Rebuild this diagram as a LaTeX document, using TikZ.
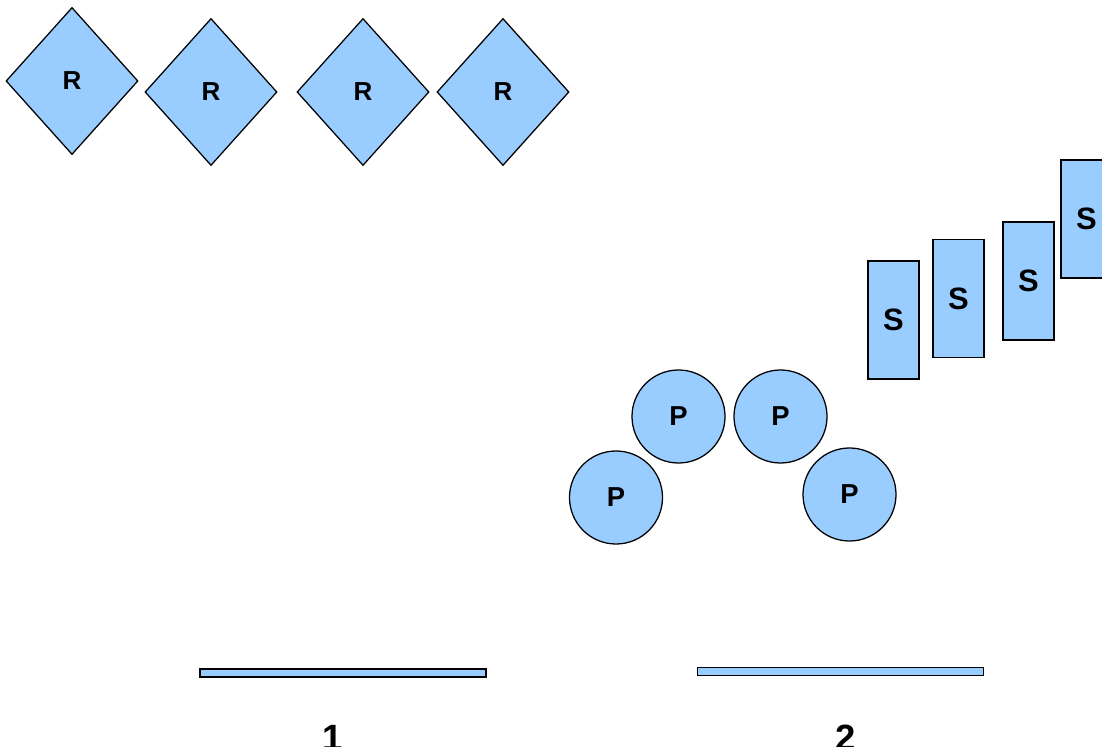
\documentclass[tikz,border=0pt]{standalone}
\usepackage{fontspec}
\setmainfont{Liberation Sans}
\usetikzlibrary{shapes.geometric}
\begin{document}
\begin{tikzpicture}[x=0.025cm,y=-0.025cm,
	shape fill/.style={draw=black,fill=lightblue,line width=0.9pt},
	rdiam/.style={shape fill,diamond,inner sep=0pt,minimum width=3.3cm,minimum height=3.675cm,font=\fontsize{18.5}{18.5}\bfseries},
	pcirc/.style={shape fill,circle,inner sep=0pt,minimum size=2.325cm,font=\fontsize{19.5}{19.5}\bfseries},
	sbox/.style={shape fill,rectangle,inner sep=0pt,minimum width=1.275cm,minimum height=2.95cm,font=\fontsize{22}{22}\bfseries},
	bar/.style={shape fill,rectangle,inner sep=0pt,minimum width=7.15cm,minimum height=0.2cm},
	num/.style={anchor=base,inner sep=0pt,font=\fontsize{26}{26}\bfseries}]
	\definecolor{lightblue}{HTML}{99CCFF}
	\useasboundingbox (0,0) rectangle (1102,747);
	% diamonds
	\node[rdiam] (r1) at (72,81) {R};
	\node[rdiam] (r2) at (211,92) {R};
	\node[rdiam] (r3) at (363,92) {R};
	\node[rdiam] (r4) at (503,92) {R};
	% tall boxes
	\node[sbox] (s1) at (893.5,320) {S};
	\node[sbox] (s2) at (958.5,298.5) {S};
	\node[sbox] (s3) at (1028.5,281) {S};
	\node[sbox] (s4) at (1086.5,219) {S};
	% circles
	\node[pcirc] (p1) at (616,497.5) {P};
	\node[pcirc] (p2) at (678.5,416.5) {P};
	\node[pcirc] (p3) at (780.5,416.5) {P};
	\node[pcirc] (p4) at (849.5,494.5) {P};
	% bars and numbers
	\node[bar] (bar1) at (343,673) {};
	\node[bar] (bar2) at (840.5,671.5) {};
	\node[num] (lab1) at (333,750) {1};
	\node[num] (lab2) at (846,750) {2};
\end{tikzpicture}
\end{document}
